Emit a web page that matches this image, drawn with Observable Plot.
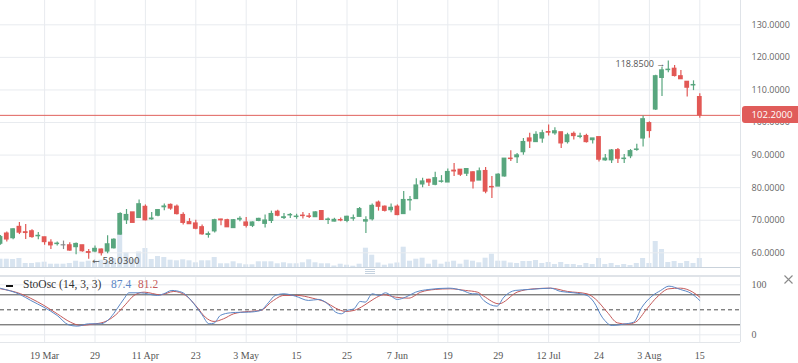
<!DOCTYPE html>
<html><head><meta charset="utf-8">
<script src="https://cdn.jsdelivr.net/npm/d3@7"></script>
<script src="https://cdn.jsdelivr.net/npm/@observablehq/plot@0.6"></script>
<style>
body{margin:0;background:#fff;}
#wrap{position:relative;width:798px;height:363px;overflow:hidden;background:#fff;}
#wrap svg.plt{position:absolute;left:0;}
.ln{position:absolute;}
#legend{position:absolute;left:0;top:278px;font-family:"Liberation Serif",serif;font-size:11.5px;color:#333;white-space:nowrap;}
#legend span{position:absolute;top:0;}
#plabel{position:absolute;left:742px;width:56px;height:17px;line-height:17px;background:#e05c5a;border-radius:3px 0 0 3px;
  color:#fff;font-family:"Open Sans",sans-serif;font-size:9.6px;padding-left:9.5px;box-sizing:border-box;}
#closex{position:absolute;left:783px;top:274px;}
</style></head><body><div id="wrap"></div>
<script>
// ---- data ----
const open  = [62.8,65.9,64.5,67.95,66.3,66.6,65.1,64.75,63.1,62.7,62.3,62.3,61.75,62.3,60.2,60.4,61.0,60.4,61.4,65.6,70.0,72.4,70.7,74.1,70.3,71.4,74.0,74.7,
  74.15,71.6,69.4,69.0,67.85,65.5,66.6,70.2,70.0,67.6,70.2,69.3,68.3,69.8,68.9,69.8,72.6,70.7,71.5,71.0,71.4,71.15,70.95,72.8,70.1,69.6,70.05,
  69.8,70.5,71.05,69.6,70.3,75.4,74.15,73.1,74.15,71.9,76.1,76.5,81.0,82.4,80.9,81.8,81.6,85.2,85.5,84.3,84.7,82.2,85.1,80.2,80.35,83.45,88.9,
  89.35,90.9,95.1,94.0,95.1,97.05,96.7,97.0,94.0,96.5,95.6,95.85,94.6,95.5,88.4,88.4,91.5,88.8,89.65,91.6,95.1,99.8,104.0,113.7,116.1,116.5,114.2,112.5,111.4,107.8];
const high  = [65.3,66.4,67.4,69.3,68.7,67.1,66.2,64.8,64.0,63.3,63.6,63.1,63.0,62.3,61.0,62.1,61.2,65.2,64.3,72.3,73.3,72.4,76.2,74.7,72.4,73.3,75.0,75.0,
  74.7,72.3,70.5,70.0,68.5,66.4,70.3,70.3,70.3,70.2,71.05,70.85,69.5,70.6,71.6,72.8,73.1,72.1,72.1,71.8,72.4,72.1,72.6,72.8,70.7,70.6,70.7,
  71.25,71.6,73.9,71.05,75.0,75.9,74.4,75.0,74.7,78.8,77.25,82.7,82.9,82.6,84.7,83.7,85.7,87.4,85.5,85.7,84.9,86.0,86.2,83.45,84.3,88.9,91.3,
  90.5,95.1,96.7,97.2,97.6,99.2,98.4,97.0,96.7,97.1,96.7,96.4,95.1,95.5,90.2,91.7,92.0,90.2,91.7,93.3,102.0,100.2,114.5,117.0,118.85,117.5,116.0,112.5,112.8,108.8];
const low   = [62.3,63.3,64.0,65.6,64.1,64.5,64.0,62.3,61.0,62.1,61.0,60.5,59.4,60.2,58.03,60.0,59.0,59.7,61.2,65.4,68.7,69.2,70.5,69.8,70.0,71.1,72.9,73.1,
  71.6,68.5,68.7,67.1,65.4,64.5,66.1,68.3,67.8,67.6,69.5,67.6,67.75,69.5,67.6,69.0,71.05,70.2,70.5,70.3,70.4,70.5,70.9,70.1,68.7,69.5,69.5,
  69.2,69.7,71.0,65.9,69.8,72.8,72.5,72.3,71.4,71.9,72.8,76.5,80.0,80.35,80.56,81.4,81.6,83.45,83.45,83.45,79.6,82.2,78.1,76.7,80.35,83.25,88.0,
  87.4,89.96,92.0,94.0,93.6,95.85,96.06,92.0,93.4,94.6,95.0,93.7,93.4,87.9,88.1,87.4,87.4,87.4,88.9,91.2,92.5,95.2,103.7,108.0,115.3,114.0,113.2,107.8,109.8,101.3];
const close = [64.8,64.1,67.2,66.2,66.1,64.85,65.2,63.3,62.3,62.8,62.3,60.7,62.7,60.5,60.0,61.2,59.9,62.6,64.0,71.9,71.6,69.2,74.9,70.0,70.5,73.1,74.2,73.6,
  71.9,69.2,68.8,67.4,65.7,65.7,70.0,70.0,67.85,70.0,70.4,68.3,69.3,70.4,69.9,71.9,71.4,70.9,71.6,71.1,71.3,71.05,72.4,70.1,70.2,70.1,69.95,
  71.05,70.6,73.4,70.0,74.4,74.15,72.9,73.8,71.6,76.2,76.2,80.66,81.9,81.6,82.9,81.9,84.8,85.0,84.0,85.7,81.9,85.0,78.8,80.1,83.97,88.9,88.8,
  89.9,94.0,94.2,96.2,96.7,96.9,97.3,93.6,96.06,95.85,95.7,94.0,95.1,88.6,88.9,91.4,88.9,88.9,91.2,91.7,101.0,97.4,114.2,116.0,116.2,114.3,113.3,110.7,111.5,102.2];
const volume = [8.3,8.3,8,9,4,4,4.7,5.3,3.3,3.3,3.3,4,6.3,5.3,6.3,6.3,7.3,6.3,8.7,35,14.7,8,15.5,19,8,11,10,7.3,
  6.7,7.7,6.7,4.7,6.7,6.7,10,3.7,3.7,5.7,3.7,2.7,2.7,5.7,5.7,5.7,3.7,4.7,3.7,3.7,4.7,7.7,4.7,3.7,3.7,1.5,3.3,
  2.3,1.3,3.3,19.3,12.3,4.5,2.3,3.5,4.5,20.3,6.3,8.3,9.3,3.3,7.3,3.3,5.3,6.3,3.3,7.3,6.3,4.7,9.3,13.3,6.3,6.3,4.5,
  4,6,6,7,4,5,3,5,3,3,2,4,3,9,3,4,2,3,2,4,9,4,26,18,5,6,4,6,4,9];

// stochastic oscillator (14,3,3): %K (blue) and %D (red), position = trading-day index
const kIdx = [0,3.2,4.8,6.9,9.0,10.8,12.2,14.0,15.9,17.5,18.5,19.6,20.4,22.2,24.9,25.9,27.2,28.8,30.7,32.0,
  33.1,33.9,34.9,36.5,38.1,39.4,41.3,42.6,43.6,45.0,46.8,48.9,50.5,52.1,53.2,54.1,55.0,56.1,57.1,57.9,
  59.0,60.1,61.1,63.0,64.3,65.9,68.0,71.2,73.3,74.9,75.7,76.7,78.8,79.9,81.7,84.1,87.3,88.9,91.0,93.1,
  94.2,95.5,97.1,98.9,100.5,101.8,103.4,104.8,106.1,107.9,109.6,111];
const kVal = [93,80,68.7,55,38.7,20,17.3,22,22,35,52,72,84,84,78.7,82,88.7,85,62,40,
  22,23.3,38.7,44,45,45.3,48.7,65.3,78.7,82,77.3,68.7,70.7,60,45.3,42,48.7,52,66.7,65.3,
  82,78.7,84,70.7,75.3,85.3,90.7,93.3,88.7,82,82,68.7,57.3,75.3,88.7,90.7,93.3,86.7,84,78.7,
  65.3,35.3,18.7,21.3,25.3,55,77.3,88.7,97.3,90.7,83,68.6];
const dIdx = [0,3.2,4.8,6.9,9.0,11.1,12.7,14.6,16.4,18.3,19.8,21.2,22.8,25.4,27.5,29.4,31.2,32.5,33.9,35.4,
  37.0,38.1,39.4,41.3,43.1,45.0,47.1,49.5,51.6,53.2,54.8,56.1,57.7,59.3,60.8,62.7,64.8,66.7,69.0,71.4,
  73.8,75.7,76.7,79.1,82.0,84.7,87.3,90.0,93.1,94.4,96.3,97.9,99.5,100.8,102.6,104.2,106.1,107.9,109.8,111];
const dVal = [92,82,73,58.7,42,25.3,18.7,21.3,25.3,40,60,78.7,85.3,80,86.7,78.7,55.3,35.3,26.7,32,
  42,45,46.7,48.7,66.7,78.7,78.7,73.3,65.3,53.3,46.7,48.7,58.7,72,80,75.3,73.3,85.3,90.7,92,
  88.7,85.3,77.3,62,85.3,92,93.3,86.7,82,72,45.3,24,21.3,25.3,52,75.3,92,93.3,86,75.3];
const legendK = 87.4, legendD = 81.2;

const tickIdx = [7,15,23,31,39,47,55,63,71,79,87,95,103,111];
const tickLabels = ["19 Mar","29","11 Apr","23","3 May","15","25","7 Jun","19","29","12 Jul","24","3 Aug","15"];
const priceTicks = [60,70,80,90,100,110,120,130];
const oscTicks = [0,100];
const oscLevels = [20,80];
const oscMid = [50];

// ---- build ----
const UP="#58a67e", DOWN="#e25855", FLAT="#8a8a8a";
const candles = open.map((o,i)=>({i,o,h:high[i],l:low[i],c:close[i],v:volume[i]}));
const col = d => d.c>d.o?UP:(d.c<d.o?DOWN:FLAT);
const xMax = 117.46;
const X = {type:"linear", domain:[0,xMax], label:null};
const base = {width:798, marginLeft:0, marginRight:58, marginTop:0};
const wrap = document.getElementById("wrap");

// volume (behind)
const vol = Plot.plot({...base, height:100, marginBottom:0,
  x:{...X, axis:null}, y:{domain:[0,100], axis:null, label:null},
  style:{background:"none"},
  marks:[Plot.rect(candles,{x1:d=>d.i-0.4, x2:d=>d.i+0.4, y1:()=>0, y2:"v", fill:"#d8e4f0"})]});
vol.classList.add("plt"); vol.style.top="167px"; wrap.appendChild(vol);

// candles
const iMin = d3.minIndex(low), iMaxH = d3.maxIndex(high);
const main = Plot.plot({...base, height:267, marginBottom:0,
  x:{...X, axis:null}, y:{domain:[55.49,137.46], axis:null, label:null},
  style:{background:"none", fontFamily:"Open Sans"},
  marks:[
    Plot.gridX(tickIdx,{stroke:"#e8ebef", strokeOpacity:1}),
    Plot.gridY(priceTicks,{stroke:"#e8ebef", strokeOpacity:1}),
    Plot.axisY(priceTicks,{anchor:"right", label:null, tickSize:0, tickPadding:11, textAnchor:"start",
      tickFormat:d=>d.toFixed(4), fontSize:9, fontFamily:"Open Sans", fill:"#666"}),
    Plot.ruleY([close[close.length-1]],{stroke:"#e0605c", strokeWidth:1}),
    Plot.ruleX(candles,{x:"i", y1:"l", y2:"h", stroke:col, strokeWidth:1.2}),
    Plot.rect(candles,{x1:d=>d.i-0.38, x2:d=>d.i+0.38, y1:"o", y2:"c", fill:col, insetTop:-0.6, insetBottom:-0.6}),
    Plot.text([{i:iMin, p:low[iMin]}],{x:"i", y:"p", text:d=>"\u2190 "+d.p.toFixed(4), textAnchor:"start", dx:3.5, dy:1.5, fontSize:9, fontFamily:"DejaVu Sans", fill:"#555"}),
    Plot.text([{i:iMaxH, p:high[iMaxH]}],{x:"i", y:"p", text:d=>d.p.toFixed(4)+" \u2192", textAnchor:"end", dx:-3, dy:2.7, fontSize:9, fontFamily:"Open Sans", fill:"#555"})
  ]});
main.classList.add("plt"); main.style.top="0px"; wrap.appendChild(main);

// oscillator
const kData = kIdx.map((i,j)=>({i, v:kVal[j]}));
const dData = dIdx.map((i,j)=>({i, v:dVal[j]}));
const osc = Plot.plot({...base, height:88, marginBottom:21,
  x:{...X}, y:{domain:[-15.4,118.6], label:null},
  style:{background:"none", fontFamily:"Liberation Serif"},
  marks:[
    Plot.gridX(tickIdx,{stroke:"#e8ebef", strokeOpacity:1}),
    Plot.gridY(oscTicks,{stroke:"#e8ebef", strokeOpacity:1}),
    Plot.ruleY(oscLevels,{stroke:"#4d4d4d", strokeWidth:1}),
    Plot.ruleY(oscMid,{stroke:"#4d4d4d", strokeWidth:1, strokeDasharray:"4,3"}),
    Plot.line(dData,{x:"i", y:"v", stroke:"#c45a5a", strokeWidth:1, curve:"monotone-x"}),
    Plot.line(kData,{x:"i", y:"v", stroke:"#5b87c6", strokeWidth:1, curve:"monotone-x"}),
    Plot.axisX(tickIdx,{anchor:"bottom", label:null, tickSize:0, tickPadding:9, tickFormat:d=>tickLabels[tickIdx.indexOf(d)],
      fontSize:10, fontFamily:"Liberation Serif", fill:"#555"}),
    Plot.axisY(oscTicks,{anchor:"right", label:null, tickSize:0, tickPadding:11, textAnchor:"start",
      fontSize:10, fontFamily:"Liberation Serif", fill:"#666"})
  ]});
osc.classList.add("plt"); osc.style.top="275px"; wrap.appendChild(osc);

// panel frames / decorations
function line(l,t,w,h,c){const d=document.createElement("div");d.className="ln";
  Object.assign(d.style,{left:l+"px",top:t+"px",width:w+"px",height:h+"px",background:c});wrap.appendChild(d);}
line(740,0,1,342,"#dfe3e8");
line(0,267,740,1,"#c9d2db");
line(0,275,740,1.5,"#dfe3e8");
line(0,342,740,1,"#e3e6ea");
line(365,269,10,1,"#c5d2df"); line(365,271,10,1,"#c5d2df"); line(365,273,10,1,"#c5d2df");

// last price label, placed with the plot's own y scale
{
  const last = close[close.length-1];
  const yl = main.scale("y").apply(last);
  const d = document.createElement("div"); d.id="plabel";
  d.style.top = (yl-8.5)+"px"; d.textContent = last.toFixed(4); wrap.appendChild(d);
}
// close icon
wrap.insertAdjacentHTML("beforeend",
  '<svg id="closex" width="11" height="11"><path d="M1.5,1.5L9.5,9.5M9.5,1.5L1.5,9.5" stroke="#8a8a8a" stroke-width="1.1" fill="none"/></svg>');
// legend
wrap.insertAdjacentHTML("beforeend",
  '<div id="legend"><span style="left:6px;top:7px;width:7px;height:2px;background:#111"></span>'+
  '<span style="left:23px">StoOsc (14, 3, 3)</span>'+
  '<span style="left:111px;color:#5b87c6">'+legendK.toFixed(1)+'</span>'+
  '<span style="left:138px;color:#c45a5a">'+legendD.toFixed(1)+'</span></div>');
</script></body></html>
